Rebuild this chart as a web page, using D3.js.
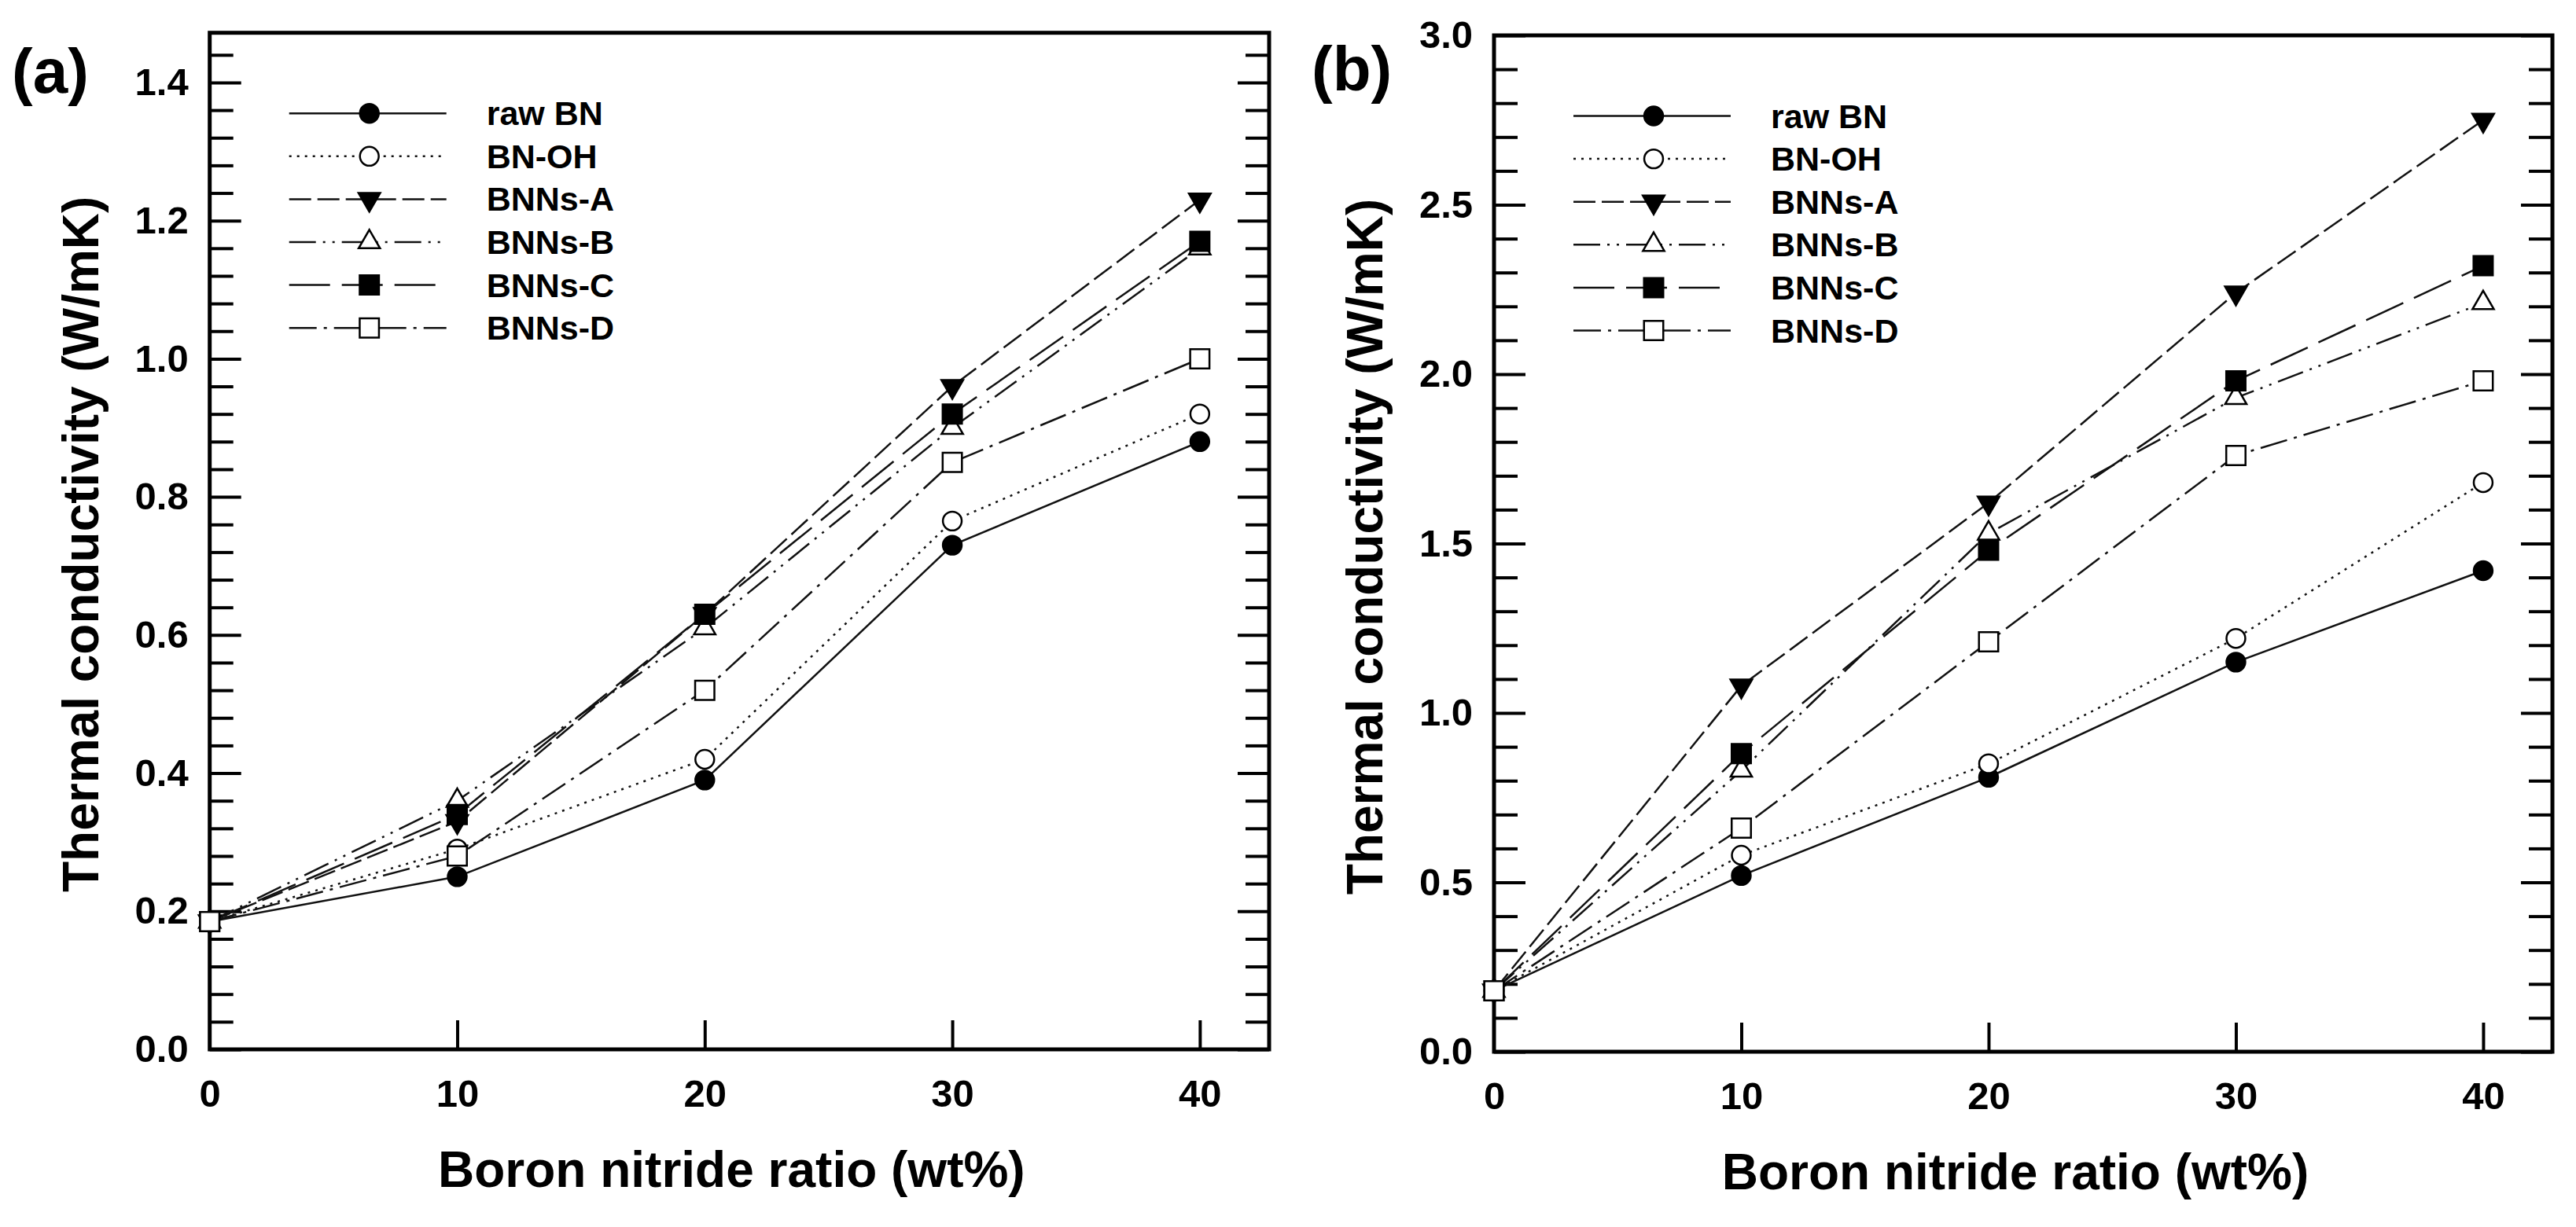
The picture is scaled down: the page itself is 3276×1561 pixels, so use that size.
<!DOCTYPE html>
<meta charset="utf-8">

<!-- Load d3.js -->
<script src="https://d3js.org/d3.v7.min.js"></script>

<style>
  body { margin: 0; background: #fff; }
  text { font-family: "Liberation Sans", Arial, sans-serif; font-weight: bold; fill: #000; }
</style>

<div id="my_dataviz"></div>

<script>
    // x values shared by both panels (wt%)
    const ratio = [0, 10, 20, 30, 40];
    const seriesNames = ["raw BN", "BN-OH", "BNNs-A", "BNNs-B", "BNNs-C", "BNNs-D"];

    // panel (a)
    const aRawBN = [0.185, 0.25, 0.39, 0.73, 0.88];
    const aBNOH  = [0.185, 0.29, 0.42, 0.765, 0.92];
    const aBNNsA = [0.185, 0.33, 0.63, 0.96, 1.23];
    const aBNNsB = [0.185, 0.36, 0.61, 0.90, 1.16];
    const aBNNsC = [0.185, 0.34, 0.63, 0.92, 1.17];
    const aBNNsD = [0.185, 0.28, 0.52, 0.85, 1.00];

    // panel (b)
    const bRawBN = [0.18, 0.52, 0.81, 1.15, 1.42];
    const bBNOH  = [0.18, 0.58, 0.85, 1.22, 1.68];
    const bBNNsA = [0.18, 1.08, 1.62, 2.24, 2.75];
    const bBNNsB = [0.18, 0.83, 1.53, 1.93, 2.21];
    const bBNNsC = [0.18, 0.88, 1.48, 1.98, 2.32];
    const bBNNsD = [0.18, 0.66, 1.21, 1.76, 1.98];

    // tick labels
    const xTickValues = [0, 10, 20, 30, 40];
    const aYTickValues = [0, 0.2, 0.4, 0.6, 0.8, 1.0, 1.2, 1.4];
    const bYTickValues = [0, 0.5, 1.0, 1.5, 2.0, 2.5, 3.0];

    const xTitle = "Boron nitride ratio (wt%)";
    const yTitle = "Thermal conductivity (W/mK)";

    // marker + line style for each series
    const styles = [
        {symbol: d3.symbolCircle,   size: 450, fill: "#000", rot: 0,   dash: null},
        {symbol: d3.symbolCircle,   size: 450, fill: "#fff", rot: 0,   dash: "3,7"},
        {symbol: d3.symbolTriangle, size: 330, fill: "#000", rot: 180, dash: "28,8"},
        {symbol: d3.symbolTriangle, size: 320, fill: "#fff", rot: 0,   dash: "34,9,3,9,3,9"},
        {symbol: d3.symbolSquare,   size: 600, fill: "#000", rot: 0,   dash: "52,15"},
        {symbol: d3.symbolSquare,   size: 600, fill: "#fff", rot: 0,   dash: "35,9,4,9"}
    ];

    const svg = d3.select("#my_dataviz")
        .append("svg")
        .attr("width", 3276)
        .attr("height", 1561)
        .style("background", "#fff");

    function drawPanel(p) {
        const x = d3.scaleLinear().domain([0, 42.8]).range([p.left, p.right]);
        const y = d3.scaleLinear().domain([0, p.yMax]).range([p.bottom, p.top]);
        const g = svg.append("g");

        // minor y ticks, left and right
        const minor = d3.range(0, Math.round(p.yMax / p.minorStep) + 1)
            .filter(i => i % p.minorPerMajor !== 0)
            .map(i => i * p.minorStep)
            .filter(v => v < p.yMax);

        g.append("g")
            .attr("transform", `translate(${p.left},0)`)
            .call(d3.axisLeft(y).tickValues(minor).tickSize(-30).tickFormat(""));
        g.append("g")
            .attr("transform", `translate(${p.right},0)`)
            .call(d3.axisRight(y).tickValues(minor).tickSize(-30).tickFormat(""));

        // major y ticks
        g.append("g")
            .attr("class", "ylab")
            .attr("transform", `translate(${p.left},0)`)
            .call(d3.axisLeft(y).tickValues(p.yTicks).tickSize(-40).tickPadding(27)
                .tickFormat(d3.format(".1f")));
        g.append("g")
            .attr("transform", `translate(${p.right},0)`)
            .call(d3.axisRight(y).tickValues(p.yTicks).tickSize(-40).tickFormat(""));

        // x ticks
        g.append("g")
            .attr("class", "xlab")
            .attr("transform", `translate(0,${p.bottom})`)
            .call(d3.axisBottom(x).tickValues(xTickValues).tickSize(-37).tickPadding(38));

        g.selectAll(".domain").remove();
        g.selectAll(".tick line").attr("stroke", "#000").attr("stroke-width", 4);
        g.selectAll(".ylab text").attr("font-size", 49).attr("fill", "#000");
        g.selectAll(".xlab text").attr("font-size", 49).attr("fill", "#000");
        g.selectAll(".xlab .tick").filter(d => d === 0).select("line").remove();

        // frame
        g.append("rect")
            .attr("x", p.left).attr("y", p.top)
            .attr("width", p.right - p.left).attr("height", p.bottom - p.top)
            .attr("fill", "none").attr("stroke", "#000").attr("stroke-width", 5);

        // lines
        const line = d3.line().x((d, i) => x(ratio[i])).y(d => y(d));
        p.series.forEach((vals, k) => {
            g.append("path")
                .datum(vals)
                .attr("d", line)
                .attr("fill", "none")
                .attr("stroke", "#111")
                .attr("stroke-width", 2.5)
                .attr("stroke-dasharray", styles[k].dash);
        });

        // markers
        p.series.forEach((vals, k) => {
            const s = styles[k];
            g.append("g").selectAll("path")
                .data(vals)
                .join("path")
                .attr("d", d3.symbol().type(s.symbol).size(s.size))
                .attr("transform", (d, i) => `translate(${x(ratio[i])},${y(d)}) rotate(${s.rot})`)
                .attr("fill", s.fill)
                .attr("stroke", "#000")
                .attr("stroke-width", 2.5);
        });

        // legend
        const lg = g.append("g");
        seriesNames.forEach((name, k) => {
            const s = styles[k];
            const ry = p.top + 102.5 + k * 54.6;
            lg.append("line")
                .attr("x1", p.left + 101).attr("x2", p.left + 301)
                .attr("y1", ry).attr("y2", ry)
                .attr("stroke", "#111").attr("stroke-width", 2.5)
                .attr("stroke-dasharray", s.dash);
            lg.append("path")
                .attr("d", d3.symbol().type(s.symbol).size(s.size))
                .attr("transform", `translate(${p.left + 203},${ry}) rotate(${s.rot})`)
                .attr("fill", s.fill).attr("stroke", "#000").attr("stroke-width", 2.5);
            lg.append("text")
                .attr("x", p.left + 352).attr("y", ry + 15)
                .attr("font-size", 43)
                .text(name);
        });

        // axis titles
        g.append("text")
            .attr("x", (p.left + p.right) / 2 - 10)
            .attr("y", p.bottom + 175)
            .attr("text-anchor", "middle")
            .attr("font-size", 64)
            .text(xTitle);
        g.append("text")
            .attr("transform", `translate(${p.left - 142},${(p.top + p.bottom) / 2 + 4}) rotate(-90)`)
            .attr("text-anchor", "middle")
            .attr("font-size", 64)
            .text(yTitle);

        // panel letter
        g.append("text")
            .attr("x", p.labelX).attr("y", p.labelY)
            .attr("font-size", 80)
            .text(p.label);
    }

    drawPanel({
        label: "(a)", labelX: 15, labelY: 118,
        left: 266.7, right: 1614, top: 41.7, bottom: 1335,
        yMax: 1.472, yTicks: aYTickValues, minorStep: 0.04, minorPerMajor: 5,
        series: [aRawBN, aBNOH, aBNNsA, aBNNsB, aBNNsC, aBNNsD]
    });

    drawPanel({
        label: "(b)", labelX: 1668, labelY: 115,
        left: 1900, right: 3246, top: 45, bottom: 1338,
        yMax: 3.0, yTicks: bYTickValues, minorStep: 0.1, minorPerMajor: 5,
        series: [bRawBN, bBNOH, bBNNsA, bBNNsB, bBNNsC, bBNNsD]
    });
</script>
